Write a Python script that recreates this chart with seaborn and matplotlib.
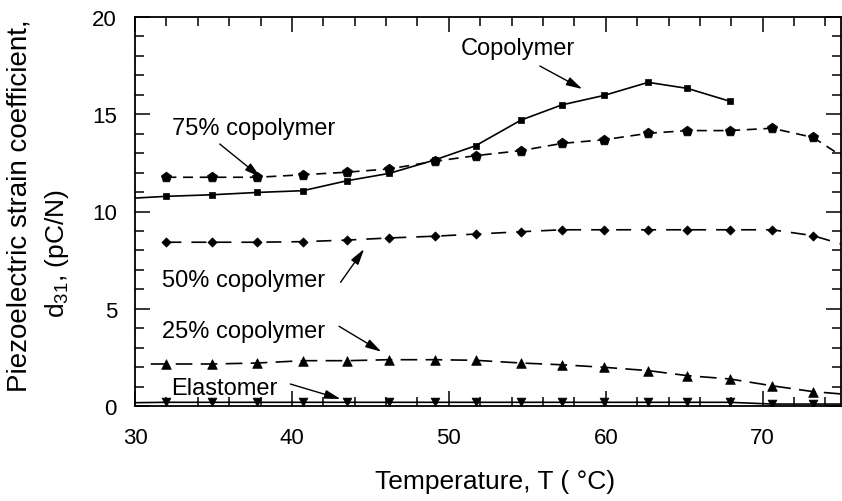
import matplotlib
matplotlib.use("Agg")
import matplotlib.pyplot as plt
import seaborn as sns
import pandas as pd
from matplotlib.ticker import MultipleLocator

# ---------------- data ----------------
temperature = [32.0, 34.9, 37.8, 40.7, 43.5, 46.2, 49.1, 51.7,
               54.6, 57.2, 59.9, 62.7, 65.2, 67.9, 70.6, 73.2]

copolymer = [10.78, 10.86, 10.98, 11.07, 11.58, 11.96, 12.65, 13.38,
             14.70, 15.48, 15.97, 16.64, 16.33, 15.67]
copolymer_75 = [11.76, 11.76, 11.76, 11.89, 12.02, 12.19, 12.58, 12.87,
                13.13, 13.50, 13.69, 14.02, 14.16, 14.16, 14.28, 13.81]
copolymer_50 = [8.42, 8.42, 8.42, 8.45, 8.53, 8.64, 8.73, 8.84,
                8.96, 9.06, 9.06, 9.06, 9.06, 9.06, 9.06, 8.76]
copolymer_25 = [2.16, 2.16, 2.21, 2.33, 2.33, 2.38, 2.38, 2.35,
                2.21, 2.12, 1.99, 1.82, 1.56, 1.39, 1.04, 0.74]
elastomer = [0.19, 0.19, 0.19, 0.19, 0.19, 0.19, 0.19, 0.19,
             0.19, 0.19, 0.19, 0.19, 0.19, 0.19, 0.10, 0.10]

# where the drawn fit curves run beyond the first / last marker
copolymer_curve_start = [30.0, 10.69]
copolymer_75_curve_end = [75.0, 12.87]
copolymer_50_curve_end = [75.0, 8.33]
copolymer_25_curve_start = [31.0, 2.16]
copolymer_25_curve_end = [75.0, 0.62]
elastomer_curve_start = [30.0, 0.17]
elastomer_curve_end = [75.0, 0.10]

x_ticks = [30, 40, 50, 60, 70]
y_ticks = [0, 5, 10, 15, 20]

# ---------------- style ----------------
sns.set_theme(style="ticks")
plt.rcParams["font.family"] = ["Liberation Sans", "DejaVu Sans"]
plt.rcParams["mathtext.fontset"] = "custom"
plt.rcParams["mathtext.rm"] = "Liberation Sans"
plt.rcParams["mathtext.it"] = "Liberation Sans"

fig = plt.figure(figsize=(8.42, 5.02), dpi=100)
ax = fig.add_axes([135 / 842, 1 - 407 / 502, 0.999 - 135 / 842, (407 - 18) / 502])


def build_curve(xs, ys, start=None, end=None):
    cx, cy = list(xs[:len(ys)]), list(ys)
    if start is not None:
        cx, cy = [start[0]] + cx, [start[1]] + cy
    if end is not None:
        cx, cy = cx + [end[0]], cy + [end[1]]
    return pd.DataFrame({"T": cx, "d31": cy})


series = [
    (copolymer, "s", 24, "-", copolymer_curve_start, None),
    (copolymer_75, "p", 60, (0, (6, 4)), None, copolymer_75_curve_end),
    (copolymer_50, "D", 22, (0, (9, 6)), None, copolymer_50_curve_end),
    (copolymer_25, "^", 48, (0, (10, 5)), copolymer_25_curve_start, copolymer_25_curve_end),
    (elastomer, "v", 40, "-", elastomer_curve_start, elastomer_curve_end),
]

for vals, mk, size, ls, start, end in series:
    curve = build_curve(temperature, vals, start, end)
    sns.lineplot(data=curve, x="T", y="d31", ax=ax, color="black",
                 linewidth=1.2, linestyle=ls, estimator=None, sort=False)
    pts = pd.DataFrame({"T": temperature[:len(vals)], "d31": vals})
    sns.scatterplot(data=pts, x="T", y="d31", ax=ax, marker=mk, s=size,
                    color="black", edgecolor="black", linewidth=0.5, zorder=3)

ax.set_xlim(30, 75)
ax.set_ylim(0, 20)
ax.set_xticks(x_ticks)
ax.set_yticks(y_ticks)
ax.xaxis.set_minor_locator(MultipleLocator(2))
ax.yaxis.set_minor_locator(MultipleLocator(1))
ax.tick_params(which="both", direction="in", top=True, right=True,
               width=1.1, color="black", labelsize=16, labelcolor="black")
ax.tick_params(which="major", length=10.5)
ax.tick_params(which="minor", length=6.5)
ax.tick_params(axis="x", which="major", pad=15)
ax.tick_params(axis="y", which="major", pad=13)
for sp in ax.spines.values():
    sp.set_visible(True)
    sp.set_linewidth(1.3)
    sp.set_color("black")

ax.set_xlabel("Temperature, T ( °C)", fontsize=19, color="black")
ax.xaxis.set_label_coords(0.51, -0.163)
ax.set_ylabel("Piezoelectric strain coefficient,", fontsize=20, color="black")
ax.yaxis.label.set_verticalalignment("center")
ax.yaxis.set_label_coords(-0.163, 0.517)
ax.text(-0.111, 0.395, "d$_{31}$, (pC/N)", transform=ax.transAxes, rotation=90,
        ha="center", va="center", fontsize=19, color="black")

# ---------------- annotations ----------------
labels = [
    ("Copolymer", (50.76, 18.51), (55.8, 17.48), (58.5, 16.30)),
    ("75% copolymer", (32.34, 14.40), (35.4, 13.47), (38.0, 11.77)),
    ("50% copolymer", (31.69, 6.62), (43.1, 6.36), (44.6, 8.07)),
    ("25% copolymer", (31.69, 3.96), (43.0, 4.10), (45.7, 2.79)),
    ("Elastomer", (32.32, 1.04), (39.9, 1.13), (43.1, 0.36)),
]
for txt, pos, tail, head in labels:
    ax.text(pos[0], pos[1], txt, fontsize=17, ha="left", va="center_baseline",
            color="black")
    ax.annotate("", xy=head, xytext=tail,
                arrowprops=dict(arrowstyle="-|>,head_length=0.8,head_width=0.22",
                                color="black", lw=1.0, shrinkA=0, shrinkB=0))

fig.savefig("out.png", dpi=100)
